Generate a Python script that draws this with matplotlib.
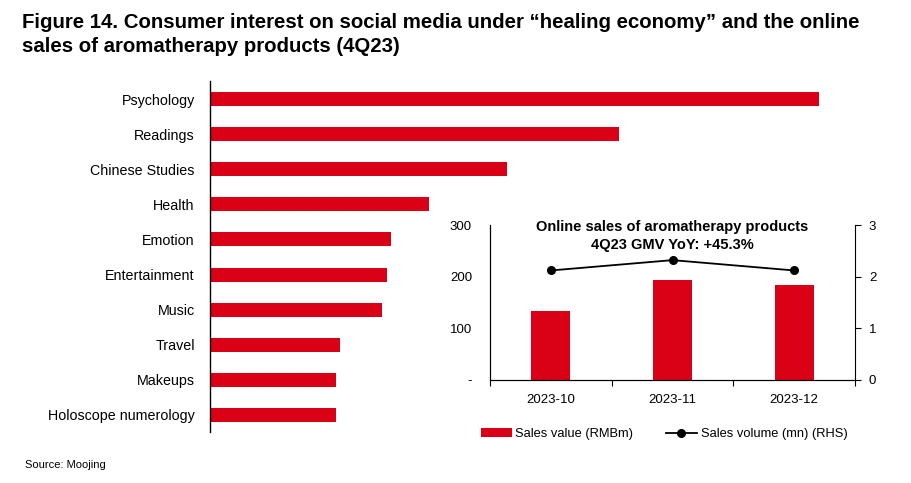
import matplotlib
matplotlib.use("Agg")
import matplotlib.pyplot as plt
from matplotlib.patches import Patch
from matplotlib.lines import Line2D

plt.rcParams['font.family'] = ['Liberation Sans', 'DejaVu Sans']

# Main chart data (relative interest)
topics = ["Psychology", "Readings", "Chinese Studies", "Health", "Emotion",
          "Entertainment", "Music", "Travel", "Makeups", "Holoscope numerology"]
interest = [609, 409, 297, 219, 181, 177, 172, 130, 126, 126]

# Inset data
months = ["2023-10", "2023-11", "2023-12"]
sales_value = [133, 193, 184]        # RMBm
sales_volume = [2.12, 2.32, 2.12]    # mn (RHS)
left_ticks = [0, 100, 200, 300]
left_labels = ["-", "100", "200", "300"]
right_ticks = [0, 1, 2, 3]

RED = '#DA0016'

fig = plt.figure(figsize=(9.11, 4.83), dpi=100)

# Title
fig.text(22/911, 1-13/483,
         "Figure 14. Consumer interest on social media under \u201chealing economy\u201d and the online\n"
         "sales of aromatherapy products (4Q23)",
         ha='left', va='top', fontsize=14.7, fontweight='bold', linespacing=1.35)

# Main horizontal bar chart
ax = fig.add_axes([210/911, 1-432.5/483, 630/911, 351/483])
ypos = list(range(len(topics)))
ax.barh(ypos, interest, height=0.4, color=RED)
ax.set_ylim(len(topics)-0.5, -0.5)
ax.set_xlim(0, 630)
ax.set_yticks(ypos)
ax.set_yticklabels(topics, fontsize=10.3)
ax.tick_params(axis='y', length=0, pad=11)
ax.set_xticks([])
for s in ['top', 'right', 'bottom']:
    ax.spines[s].set_visible(False)
ax.spines['left'].set_linewidth(1.0)
ax.patch.set_alpha(0)

# Inset chart
ia = fig.add_axes([490/911, 1-380/483, 365/911, 155/483])
ia.set_facecolor('white')
xs = list(range(len(months)))
ia.bar(xs, sales_value, width=0.32, color=RED)
ia.set_xlim(-0.5, 2.5)
ia.set_ylim(0, 300)
ia.set_yticks(left_ticks)
ia.set_yticklabels(left_labels, fontsize=9.5)
ia.tick_params(axis='y', length=0, pad=13)
ia.set_xticks([-0.5, 0.5, 1.5, 2.5])
ia.set_xticklabels([])
ia.set_xticks(xs, minor=True)
ia.set_xticklabels(months, minor=True, fontsize=9.5)
ia.tick_params(axis='x', which='major', direction='out', length=4)
ia.tick_params(axis='x', which='minor', length=0, pad=10)
ia.spines['top'].set_visible(False)
ia.spines['right'].set_visible(False)

ib = ia.twinx()
ib.plot(xs, sales_volume, color='black', lw=1.3, marker='o', markersize=5.5)
ib.set_ylim(0, 3)
ib.set_yticks(right_ticks)
ib.set_yticklabels([str(t) for t in right_ticks], fontsize=9.5)
ib.tick_params(axis='y', direction='out', length=4, pad=6)
ib.spines['top'].set_visible(False)

ia.text(0.5, 1.03, "Online sales of aromatherapy products\n4Q23 GMV YoY: +45.3%",
        transform=ia.transAxes, ha='center', va='top', fontsize=10.5,
        fontweight='bold', linespacing=1.3)

# Legend
handles = [Patch(facecolor=RED, edgecolor='none'),
           Line2D([0], [0], color='black', lw=1.3, marker='o', markersize=5.5)]
fig.legend(handles, ["Sales value (RMBm)", "Sales volume (mn) (RHS)"],
           loc='center', bbox_to_anchor=(664/911, 1-434/483), ncol=2,
           frameon=False, fontsize=9.3, handlelength=2.4, handletextpad=0.3,
           columnspacing=2.5)

fig.text(25/911, 1-465/483, "Source: Moojing", fontsize=8, ha='left', va='center')

fig.savefig("out.png", dpi=100)
